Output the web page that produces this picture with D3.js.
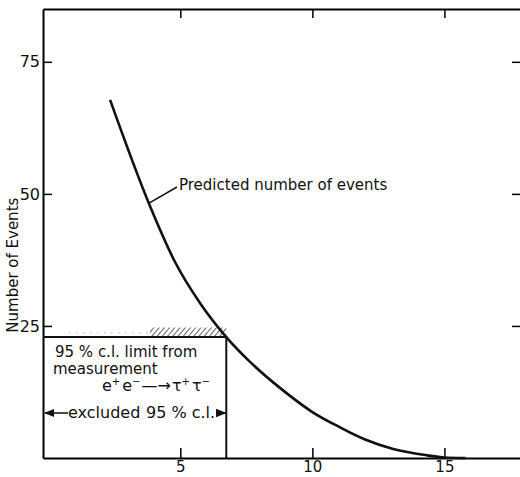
<!DOCTYPE html>
<html>
<head>
<meta charset="utf-8">
<script src="https://cdn.jsdelivr.net/npm/d3@7"></script>
<style>
  body { margin: 0; background: #fff; }
  text { font-family: "DejaVu Sans", sans-serif; fill: #111; }
</style>
</head>
<body>
<script>
// predicted number of events vs mass
var massValues = [2.34, 3.85, 4.8, 5.75, 6.74, 7.64, 8.89, 10.0, 11.05, 12.0, 13.06, 14.35, 15.0, 15.8];
var predictedEvents = [67.8, 47.7, 37.1, 29.3, 22.9, 18.2, 12.8, 8.7, 5.8, 3.5, 1.7, 0.5, 0.1, 0];
var xTicks = [5, 10, 15];
var yTicks = [25, 50, 75];
var limitEvents = 22.9;      // 95% c.l. limit from measurement
var excludedMass = 6.74;     // excluded region ends here
var hatchFrom = 3.85;

var width = 520, height = 477;
var svg = d3.select("body").append("svg").attr("width", width).attr("height", height);

var x = d3.scaleLinear().domain([-0.2, 17.9]).range([43, 521]);
var y = d3.scaleLinear().domain([0, 85]).range([458, 9]);

var defs = svg.append("defs");
var pat = defs.append("pattern").attr("id", "hatch").attr("patternUnits", "userSpaceOnUse")
  .attr("width", 4).attr("height", 4).attr("patternTransform", "rotate(40)");
pat.append("line").attr("x1", 0).attr("y1", 0).attr("x2", 0).attr("y2", 4)
  .attr("stroke", "#222").attr("stroke-width", 1.4);

// axes
svg.append("g").attr("transform", "translate(0," + y(0) + ")")
  .call(d3.axisBottom(x).tickValues(xTicks).tickSize(-10).tickPadding(3).tickSizeOuter(0))
  .call(function(g){
    g.select(".domain").attr("stroke-width", 1.8);
    g.selectAll(".tick line").attr("stroke-width", 1.5);
    g.selectAll("text").attr("font-size", "15px");
  });
svg.append("g").attr("transform", "translate(0," + y(85) + ")")
  .call(d3.axisTop(x).tickValues(xTicks).tickSize(-9).tickFormat("").tickSizeOuter(0))
  .call(function(g){
    g.select(".domain").attr("stroke-width", 1.8);
    g.selectAll(".tick line").attr("stroke-width", 1.5);
  });
svg.append("g").attr("transform", "translate(" + x(-0.2) + ",0)")
  .call(d3.axisLeft(y).tickValues(yTicks).tickSize(-9).tickPadding(3).tickSizeOuter(0))
  .call(function(g){
    g.select(".domain").attr("stroke-width", 2);
    g.selectAll(".tick line").attr("stroke-width", 1.5);
    g.selectAll("text").attr("font-size", "16px");
  });
svg.append("g").attr("transform", "translate(" + x(17.9) + ",0)")
  .call(d3.axisRight(y).tickValues(yTicks).tickSize(-9).tickFormat("").tickSizeOuter(0))
  .call(function(g){
    g.selectAll(".tick line").attr("stroke-width", 1.5);
  });

svg.append("text")
  .attr("transform", "translate(18," + y(36.5) + ") rotate(-90)")
  .attr("text-anchor", "middle")
  .attr("font-size", "15px")
  .text("Number of Events");

// hatched band above limit
svg.append("rect")
  .attr("x", x(hatchFrom)).attr("y", y(limitEvents + 1.8))
  .attr("width", x(excludedMass) - x(hatchFrom)).attr("height", y(limitEvents) - y(limitEvents + 1.8))
  .attr("fill", "url(#hatch)");
svg.append("line")
  .attr("x1", x(0.8)).attr("x2", x(hatchFrom)).attr("y1", y(limitEvents + 0.8)).attr("y2", y(limitEvents + 0.8))
  .attr("stroke", "#999").attr("stroke-width", 1).attr("stroke-dasharray", "1,6");

// limit box
svg.append("path")
  .attr("d", "M" + x(-0.2) + "," + y(limitEvents) + "H" + x(excludedMass) + "V" + y(0))
  .attr("fill", "none").attr("stroke", "#111").attr("stroke-width", 2);

// curve
var line = d3.line().x(function(d, i){ return x(massValues[i]); })
  .y(function(d){ return y(d); }).curve(d3.curveMonotoneX);
svg.append("path").datum(predictedEvents)
  .attr("d", line).attr("fill", "none").attr("stroke", "#111").attr("stroke-width", 2.6);

// label with leader
svg.append("line")
  .attr("x1", x(3.8)).attr("y1", y(48.2))
  .attr("x2", 177).attr("y2", 187)
  .attr("stroke", "#111").attr("stroke-width", 1.5);
svg.append("text").attr("x", 179).attr("y", 190).attr("font-size", "15px")
  .text("Predicted number of events");

// box text
svg.append("text").attr("x", 55).attr("y", 357).attr("font-size", "15px").text("95 % c.l. limit from");
svg.append("text").attr("x", 53).attr("y", 374).attr("font-size", "15px").text("measurement");

var reac = svg.append("text").attr("x", 102).attr("y", 391).attr("font-size", "16px");
reac.append("tspan").text("e");
reac.append("tspan").attr("font-size", "10px").attr("dy", -6).text("+");
reac.append("tspan").attr("dy", 6).attr("dx", 2).text("e");
reac.append("tspan").attr("font-size", "10px").attr("dy", -6).text("\u2212");
reac.append("tspan").attr("dy", 6).attr("dx", 1).text("\u2014\u2192");
reac.append("tspan").attr("dx", 1).text("\u03C4");
reac.append("tspan").attr("font-size", "10px").attr("dy", -6).text("+");
reac.append("tspan").attr("dy", 6).attr("dx", 2).text("\u03C4");
reac.append("tspan").attr("font-size", "10px").attr("dy", -6).text("\u2212");

svg.append("text").attr("x", 68).attr("y", 418).attr("font-size", "16px").text("excluded");
svg.append("text").attr("x", 146).attr("y", 418).attr("font-size", "16px").text("95 % c.l.");

// arrows
var arr = defs.append("marker").attr("id", "arr").attr("viewBox", "0 0 10 10")
  .attr("refX", 9).attr("refY", 5).attr("markerWidth", 7).attr("markerHeight", 7).attr("orient", "auto");
arr.append("path").attr("d", "M0,1L10,5L0,9z").attr("fill", "#111");
svg.append("line").attr("x1", 68).attr("x2", x(-0.2) + 2).attr("y1", 413).attr("y2", 413)
  .attr("stroke", "#111").attr("stroke-width", 1.5).attr("marker-end", "url(#arr)");
svg.append("line").attr("x1", 217).attr("x2", x(excludedMass) - 1).attr("y1", 413).attr("y2", 413)
  .attr("stroke", "#111").attr("stroke-width", 1.5).attr("marker-end", "url(#arr)");
</script>
</body>
</html>
